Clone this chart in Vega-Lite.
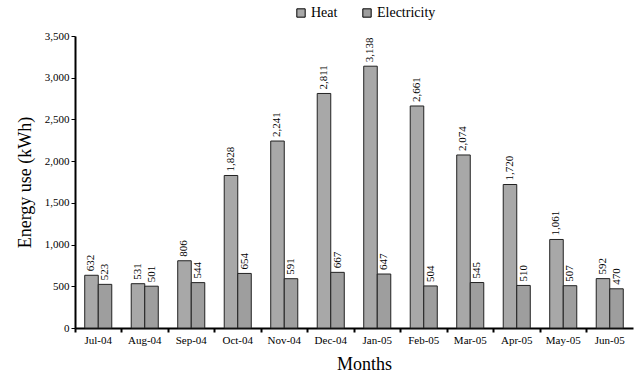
{
  "$schema": "https://vega.github.io/schema/vega-lite/v6.json",
  "autosize": {"type": "none"},
  "padding": {"left": 75, "top": 36, "right": 1, "bottom": 52},
  "width": 558,
  "height": 292,
  "config": {
    "font": "Liberation Serif, Times New Roman, serif",
    "view": {"stroke": null}
  },
  "data": {
    "values": [
      {"month": "Jul-04", "type": "Heat", "value": 632},
      {"month": "Jul-04", "type": "Electricity", "value": 523},
      {"month": "Aug-04", "type": "Heat", "value": 531},
      {"month": "Aug-04", "type": "Electricity", "value": 501},
      {"month": "Sep-04", "type": "Heat", "value": 806},
      {"month": "Sep-04", "type": "Electricity", "value": 544},
      {"month": "Oct-04", "type": "Heat", "value": 1828},
      {"month": "Oct-04", "type": "Electricity", "value": 654},
      {"month": "Nov-04", "type": "Heat", "value": 2241},
      {"month": "Nov-04", "type": "Electricity", "value": 591},
      {"month": "Dec-04", "type": "Heat", "value": 2811},
      {"month": "Dec-04", "type": "Electricity", "value": 667},
      {"month": "Jan-05", "type": "Heat", "value": 3138},
      {"month": "Jan-05", "type": "Electricity", "value": 647},
      {"month": "Feb-05", "type": "Heat", "value": 2661},
      {"month": "Feb-05", "type": "Electricity", "value": 504},
      {"month": "Mar-05", "type": "Heat", "value": 2074},
      {"month": "Mar-05", "type": "Electricity", "value": 545},
      {"month": "Apr-05", "type": "Heat", "value": 1720},
      {"month": "Apr-05", "type": "Electricity", "value": 510},
      {"month": "May-05", "type": "Heat", "value": 1061},
      {"month": "May-05", "type": "Electricity", "value": 507},
      {"month": "Jun-05", "type": "Heat", "value": 592},
      {"month": "Jun-05", "type": "Electricity", "value": 470}
    ]
  },
  "encoding": {
    "x": {
      "field": "month", "type": "nominal", "sort": null,
      "scale": {"paddingInner": 0, "paddingOuter": 0}
    },
    "xOffset": {
      "field": "type", "type": "nominal", "sort": ["Heat", "Electricity"],
      "scale": {"paddingInner": 0, "paddingOuter": 0.72}
    },
    "y": {
      "field": "value", "type": "quantitative",
      "scale": {"domain": [0, 3500], "nice": false},
      "axis": {
        "title": "Energy use (kWh)", "titleFont": "Liberation Serif", "titleFontSize": 18,
        "titleFontWeight": "normal", "titleColor": "black", "titlePadding": 10,
        "values": [0, 500, 1000, 1500, 2000, 2500, 3000, 3500], "format": ",.0f",
        "labelFont": "Liberation Serif", "labelFontSize": 11, "labelColor": "black",
        "domainColor": "black", "domainWidth": 2, "tickColor": "black", "tickSize": 4,
        "grid": false
      }
    }
  },
  "layer": [
    {
      "mark": {"type": "bar", "stroke": "#222", "strokeWidth": 1},
      "encoding": {
        "x": {
          "field": "month", "type": "nominal", "sort": null,
          "axis": {
            "orient": "bottom",
            "title": "Months", "titleFont": "Liberation Serif", "titleFontSize": 18,
            "titleFontWeight": "normal", "titleColor": "black", "titlePadding": 10, "titleX": 289,
            "labelFont": "Liberation Serif", "labelFontSize": 11, "labelColor": "black",
            "labelAngle": 0, "labelPadding": 6, "ticks": false, "domain": false
          }
        },
        "color": {
          "field": "type", "type": "nominal", "sort": ["Heat", "Electricity"],
          "scale": {"domain": ["Heat", "Electricity"], "range": ["#a8a8a8", "#9e9e9e"]},
          "legend": {
            "title": null, "orient": "none", "direction": "horizontal",
            "legendX": 219, "legendY": -30, "symbolType": "square", "symbolSize": 70,
            "symbolStrokeColor": "black", "symbolStrokeWidth": 1,
            "labelFont": "Liberation Serif", "labelFontSize": 14, "labelColor": "black",
            "columnPadding": 22, "labelOffset": 3
          }
        }
      }
    },
    {
      "mark": {"type": "text", "angle": 270, "align": "left", "baseline": "middle", "dx": 4, "fontSize": 11, "font": "Liberation Serif", "color": "black"},
      "encoding": {
        "x": {
          "field": "month", "type": "nominal", "sort": null,
          "axis": {
            "orient": "bottom",
            "title": null, "labels": false, "bandPosition": 0,
            "domainColor": "black", "domainWidth": 2, "tickColor": "black", "tickSize": 4, "tickWidth": 2
          }
        },
        "text": {"field": "value", "type": "quantitative", "format": ","}
      }
    }
  ],
  "resolve": {"axis": {"x": "independent"}}
}
